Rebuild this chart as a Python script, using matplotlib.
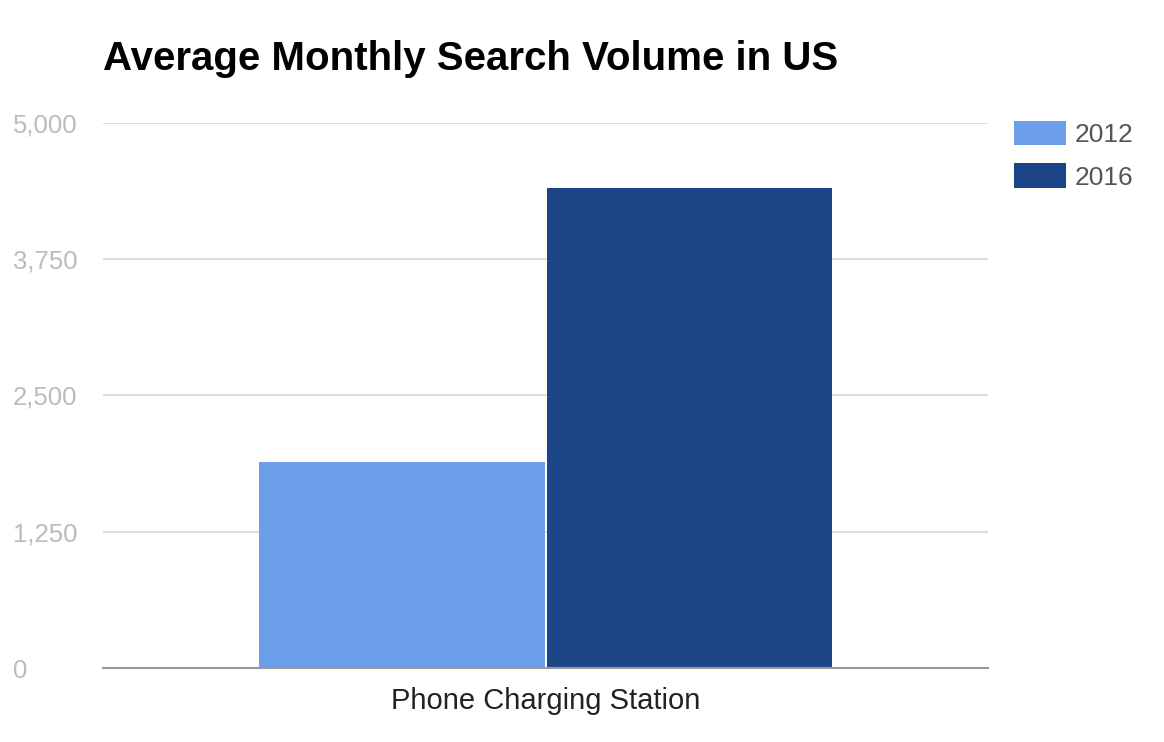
import matplotlib.pyplot as plt
from matplotlib.patches import Patch
from matplotlib.ticker import FuncFormatter

# 数据
categories = ['Phone Charging Station']
years = ['2012', '2016']
volumes = [1890, 4400]
colors = ['#6d9eeb', '#1c4587']
y_ticks = [0, 1250, 2500, 3750, 5000]

plt.rcParams['font.family'] = ['Liberation Sans', 'DejaVu Sans']

fig = plt.figure(figsize=(11.64, 7.42), dpi=100)
ax = fig.add_axes([0.0885, 0.0997, 0.7605, 0.7348])

# 两个柱子并排
bar_w = 0.325
offsets = [-bar_w / 2, bar_w / 2]
for yr, val, col, off in zip(years, volumes, colors, offsets):
    ax.bar(0 + off, val, width=bar_w - 0.002, color=col, zorder=3, label=yr)

ax.set_xlim(-0.5, 0.5)
ax.set_ylim(0, 5000)
ax.set_yticks(y_ticks)
ax.yaxis.set_major_formatter(FuncFormatter(lambda v, p: f'{int(v):,}'))
ax.set_xticks([0])
ax.set_xticklabels(categories)

# 网格和坐标轴
ax.grid(axis='y', color='#dddddd', linewidth=1.5, zorder=0)
for s in ['top', 'right', 'left']:
    ax.spines[s].set_visible(False)
ax.spines['bottom'].set_color('#999999')
ax.spines['bottom'].set_linewidth(1.5)
ax.spines['bottom'].set_zorder(4)

ax.tick_params(axis='y', length=0, labelsize=18.5, labelcolor='#bbbbbb', pad=0)
ax.tick_params(axis='x', length=0, labelsize=21, labelcolor='#222222', pad=14)
for lbl in ax.get_yticklabels():
    lbl.set_horizontalalignment('left')
    lbl.set_transform(ax.get_yaxis_transform())
    lbl.set_x(-0.1017)

fig.text(0.0885, 1 - 70 / 742, 'Average Monthly Search Volume in US', fontsize=29,
         fontweight='bold', color='#000000', ha='left', va='baseline')

# 图例
handles = [Patch(facecolor=c, edgecolor='none') for c in colors]
fig.legend(handles, years, loc='upper left', bbox_to_anchor=(1014 / 1164, 1 - 121 / 742),
           frameon=False, fontsize=19, labelcolor='#555555',
           borderpad=0, borderaxespad=0,
           handlelength=1.97, handleheight=1.03, handletextpad=0.34,
           labelspacing=0.62)

fig.savefig('out.png', dpi=100)
